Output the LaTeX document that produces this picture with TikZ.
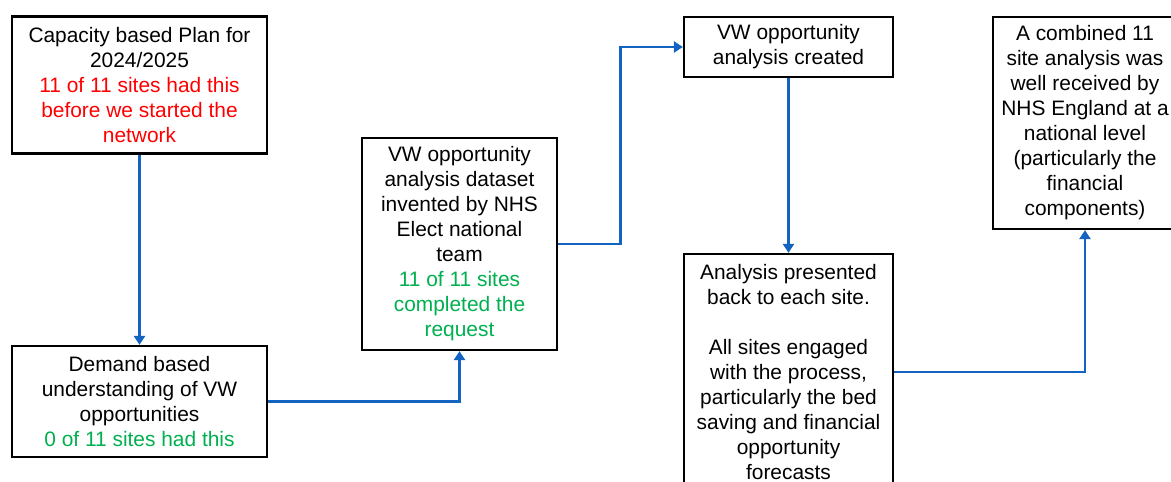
\documentclass[tikz,border=0pt]{standalone}
\usepackage{fontspec}
\setmainfont{Liberation Sans}
\usepackage{tikz}
\usetikzlibrary{arrows.meta}
\usetikzlibrary{positioning}
\usetikzlibrary{calc}
\definecolor{flowblue}{RGB}{18,100,192}
\definecolor{flowred}{RGB}{255,0,0}
\definecolor{flowgreen}{RGB}{0,176,80}
\tikzset{
  stagebox/.style={draw, line width=1.3pt, fill=white, align=center, inner sep=0pt,
    font=\fontsize{11.9pt}{14.23pt}\selectfont},
  flowline/.style={draw=flowblue, line width=1.6pt, -{Triangle[length=0.18cm,width=0.22cm]}}
}

\begin{document}
\begin{tikzpicture}[x=0.02cm, y=-0.02cm]
      \useasboundingbox (0, 0) rectangle (1171, 482);
      \clip (0, 0) rectangle (1171, 482);

      \node[stagebox, minimum width=5.1cm, minimum height=2.74cm] (plan) at (139.5, 85)
        {Capacity based Plan for\\2024/2025\\
         \textcolor{flowred}{11 of 11 sites had this}\\
         \textcolor{flowred}{before we started the}\\
         \textcolor{flowred}{network}};
      \node[stagebox, minimum width=5.1cm, minimum height=2.22cm] (demand) at (139.5, 401.5)
        {Demand based\\understanding of VW\\opportunities\\
         \textcolor{flowgreen}{0 of 11 sites had this}};
      \node[stagebox, minimum width=3.9cm, minimum height=4.24cm] (dataset) at (459.5, 244)
        {VW opportunity\\analysis dataset\\invented by NHS\\Elect national\\team\\
         \textcolor{flowgreen}{11 of 11 sites}\\
         \textcolor{flowgreen}{completed the}\\
         \textcolor{flowgreen}{request}};
      \node[stagebox, minimum width=4.18cm, minimum height=1.2cm] (created) at (788.5, 47)
        {VW opportunity\\analysis created};
      \node[stagebox, minimum width=4.18cm, minimum height=4.72cm] (presented) at (788.5, 372)
        {Analysis presented\\back to each site.\\[14.23pt]
         All sites engaged\\with the process,\\particularly the bed\\saving and financial\\opportunity\\forecasts};
      \node[stagebox, minimum width=3.68cm, minimum height=4.24cm] (combined) at (1085, 123)
        {A combined 11\\site analysis was\\well received by\\NHS England at a\\national level\\(particularly the\\financial\\components)};

      \draw[flowline] (plan.south) -- (demand.north);
      \draw[flowline] (demand.east) -| (dataset.south);
      \draw[flowline] (dataset.east) -- ($(dataset.east)!.5!(dataset.east -| created.west)$) |- (created.west);
      \draw[flowline] (created.south) -- (presented.north);
      \draw[flowline] (presented.east) -| (combined.south);
    \end{tikzpicture}
\end{document}
